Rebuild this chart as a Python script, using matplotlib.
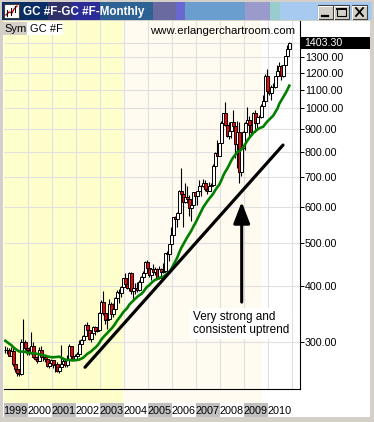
import numpy as np
import pandas as pd
import matplotlib
matplotlib.use("Agg")
import matplotlib.pyplot as plt
from matplotlib.patches import Rectangle
from matplotlib.ticker import NullLocator
from matplotlib.transforms import blended_transform_factory

plt.rcParams['font.family'] = ['Liberation Sans', 'DejaVu Sans']

# monthly gold futures, Jan 1999 .. Nov 2010
years = list(range(1999, 2011))
opens = [
    288, 287, 287, 279, 286, 268, 261, 255, 254, 299, 299, 291,
    288, 283, 294, 277, 275, 272, 288, 277, 277, 274, 265, 269,
    273, 266, 267, 258, 264, 267, 271, 266, 273, 293, 279, 275,
    279, 282, 297, 302, 309, 327, 319, 305, 313, 324, 317, 318,
    348, 368, 348, 335, 337, 365, 346, 355, 376, 388, 386, 398,
    416, 403, 396, 428, 389, 395, 396, 391, 409, 419, 428, 453,
    438, 423, 437, 429, 436, 417, 437, 429, 433, 473, 471, 496,
    519, 570, 564, 584, 654, 643, 616, 634, 626, 599, 606, 649,
    636, 652, 669, 669, 681, 661, 653, 669, 673, 744, 794, 783,
    838, 928, 975, 916, 865, 887, 930, 914, 833, 885, 719, 816,
    884, 928, 943, 917, 883, 976, 927, 955, 955, 1009, 1040, 1182,
    1095, 1083, 1116, 1113, 1180, 1212, 1245, 1180, 1248, 1308, 1358,
]
highs = [
    294, 292, 291, 292, 290, 268, 263, 260, 305, 338, 302, 292,
    292, 316, 299, 285, 279, 292, 293, 281, 279, 276, 270, 275,
    273, 270, 270, 266, 295, 276, 272, 280, 296, 294, 280, 281,
    285, 303, 304, 310, 328, 332, 327, 315, 326, 326, 323, 350,
    372, 389, 352, 341, 373, 368, 366, 377, 392, 394, 400, 417,
    428, 416, 429, 430, 396, 406, 408, 412, 420, 431, 456, 457,
    440, 439, 448, 440, 438, 444, 439, 450, 475, 478, 497, 541,
    571, 575, 585, 655, 733, 646, 679, 668, 640, 610, 649, 650,
    654, 690, 672, 695, 692, 675, 683, 680, 750, 799, 848, 838,
    935, 977, 1033, 937, 933, 932, 989, 918, 934, 930, 827, 890,
    932, 1007, 960, 923, 980, 991, 961, 967, 1024, 1072, 1194, 1227,
    1163, 1128, 1140, 1183, 1249, 1266, 1247, 1252, 1311, 1388, 1410,
]
lows = [
    283, 282, 278, 278, 265, 257, 252, 251, 253, 295, 287, 280,
    280, 282, 276, 273, 269, 271, 276, 271, 270, 263, 262, 267,
    262, 256, 257, 255, 263, 265, 263, 264, 272, 276, 273, 273,
    277, 281, 290, 298, 307, 316, 302, 300, 311, 311, 315, 317,
    345, 344, 328, 320, 337, 343, 341, 350, 370, 367, 378, 397,
    398, 394, 390, 384, 372, 383, 388, 389, 398, 414, 423, 431,
    419, 412, 426, 423, 415, 415, 417, 428, 433, 462, 456, 491,
    517, 539, 542, 583, 640, 543, 612, 615, 573, 560, 605, 612,
    607, 648, 637, 667, 654, 643, 652, 651, 673, 728, 781, 780,
    837, 889, 913, 860, 852, 857, 910, 775, 735, 681, 705, 742,
    806, 917, 865, 865, 883, 913, 905, 930, 950, 1003, 1040, 1075,
    1073, 1045, 1087, 1111, 1157, 1200, 1157, 1175, 1243, 1308, 1330,
]
closes = [
    287, 287, 279, 286, 268, 261, 255, 254, 299, 299, 291, 288,
    283, 294, 277, 275, 272, 288, 277, 277, 274, 265, 269, 273,
    266, 267, 258, 264, 267, 271, 266, 273, 293, 279, 275, 279,
    282, 297, 302, 309, 327, 319, 305, 313, 324, 317, 318, 348,
    368, 348, 335, 337, 365, 346, 355, 376, 388, 386, 398, 416,
    403, 396, 428, 389, 395, 396, 391, 409, 419, 428, 453, 438,
    423, 437, 429, 436, 417, 437, 429, 433, 473, 471, 496, 519,
    570, 564, 584, 654, 643, 616, 634, 626, 599, 606, 649, 636,
    652, 669, 669, 681, 661, 653, 669, 673, 744, 794, 783, 838,
    928, 975, 916, 865, 887, 930, 914, 833, 885, 719, 816, 884,
    928, 943, 917, 883, 976, 927, 955, 955, 1009, 1040, 1182, 1095,
    1083, 1116, 1113, 1180, 1212, 1245, 1180, 1248, 1308, 1358, 1403.30,
]
# closes Jun 1997 .. Dec 1998, only used to warm up the moving average
closes_pre = [334, 326, 325, 332, 311, 296, 290,
              304, 297, 301, 310, 293, 296, 288, 273, 293, 292, 294, 288]
ma_len = 20

price_ticks = [1300, 1200, 1100, 1000, 900, 800, 700, 600, 500, 400, 300]
trend_x = [39.85, 138.85]
trend_y = [263, 827]
arrow_x = 118.2
arrow_from, arrow_to = 368, 617
note = "Very strong and\nconsistent uptrend"

W, H = 374, 422
fig = plt.figure(figsize=(W / 100, H / 100), dpi=100)
fig.patch.set_facecolor('#d4d0c8')

# window chrome, in pixel coordinates
bg = fig.add_axes([0, 0, 1, 1], zorder=0)
bg.set_xlim(0, W)
bg.set_ylim(H, 0)
bg.axis('off')
bar_parts = [(2, 48, '#0a2d64'), (48, 72, '#303068'), (72, 100, '#2c2c98'),
             (100, 153, '#2e6294'), (153, 176, '#6a6aa0'), (176, 185, '#6868d0'),
             (185, 245, '#6a9ece'), (245, 270, '#9a9acc'), (270, 280, '#99cccc'),
             (280, 372, '#a6caf0')]
for x0, x1, c in bar_parts:
    bg.add_patch(Rectangle((x0, 2), x1 - x0, 18, fc=c, lw=0))
bg.add_patch(Rectangle((4, 4), 15, 14, fc='white', ec='#404040', lw=0.8))
bg.plot([6, 9, 12, 14, 17], [15, 12, 13, 9, 6], color='#cc0000', lw=1)
bg.plot([7, 7], [10, 16], color='black', lw=0.7)
bg.plot([11, 11], [8, 15], color='black', lw=0.7)
bg.plot([15, 15], [6, 12], color='black', lw=0.7)
bg.text(23, 11.5, "GC #F-GC #F-Monthly", color='white', fontsize=8.4,
        fontweight='bold', va='center', ha='left')
for i, bx in enumerate([318, 334, 352]):
    bg.add_patch(Rectangle((bx, 5), 15, 14, fc='#d4d0c8', ec='#404040', lw=0.8))
    bg.plot([bx + 0.5, bx + 0.5, bx + 14], [18.5, 5.7, 5.7], color='white', lw=0.7)
    if i == 0:
        bg.plot([bx + 4, bx + 10], [15.5, 15.5], color='black', lw=1.6)
    elif i == 1:
        bg.add_patch(Rectangle((bx + 3, 8), 9, 8, fill=False, ec='black', lw=0.8))
        bg.plot([bx + 3, bx + 12], [8.5, 8.5], color='black', lw=1.4)
    else:
        bg.plot([bx + 4, bx + 11], [8, 16], color='black', lw=1.3)
        bg.plot([bx + 4, bx + 11], [16, 8], color='black', lw=1.3)
bg.add_patch(Rectangle((3, 21), 367, 396, fc='white', lw=0))

x_lim = (-0.65, 147.35)
y_lim = (235.1, 1568)
bounds = [-0.5 + 12 * k for k in range(len(years) + 1)]

ax = fig.add_axes([4 / W, (H - 389) / H, 296 / W, 368 / H], zorder=2)
ax.set_yscale('log')
ax.set_xlim(*x_lim)
ax.set_ylim(*y_lim)
ax.axvspan(x_lim[0], 59.0, color='#ffffcc', lw=0, zorder=0)
ax.axvspan(59.0, 128.4, color='#fffbf0', lw=0, zorder=0)
for v in price_ticks + [1400]:
    ax.axhline(v, color='#e0e0e0', lw=0.8, zorder=0.5)
for b in bounds[1:]:
    ax.axvline(b, color='#e0e0e0', lw=0.8, zorder=0.5)

o = np.array(opens, dtype=float)
c = np.array(closes, dtype=float)
x = np.arange(len(c))
ax.vlines(x, lows, highs, color='black', lw=0.8, zorder=2)
body_col = np.where(c >= o, 'white', '#ff0000')
ax.bar(x, np.maximum(np.abs(c - o), 0.5), bottom=np.minimum(o, c), width=1.3,
       color=body_col, edgecolor='black', linewidth=0.7, zorder=3)

all_c = pd.Series(closes_pre + closes, dtype=float)
ma = all_c.rolling(ma_len).mean()
x_all = np.arange(-len(closes_pre), len(closes))
ax.plot(x_all, ma, color='#008000', lw=1.9, zorder=4)

ax.plot(trend_x, trend_y, color='black', lw=2.3, zorder=5, solid_capstyle='round')
ax.annotate('', xy=(arrow_x, arrow_to), xytext=(arrow_x, arrow_from),
            arrowprops=dict(arrowstyle='-|>,head_length=1.3,head_width=0.5',
                            mutation_scale=10, lw=2.2, color='black',
                            shrinkA=0, shrinkB=0), zorder=5)
ax.text(93.85, 351, note, fontsize=8.5, va='top', ha='left', linespacing=1.1,
        bbox=dict(fc='white', ec='none', pad=2.2), zorder=6)

ax.yaxis.tick_right()
ax.set_yticks(price_ticks)
ax.set_yticklabels([f"{v:.2f}" for v in price_ticks])
ax.yaxis.set_minor_locator(NullLocator())
ax.tick_params(axis='y', length=3, width=0.7, pad=0.5, labelsize=7.7, colors='black')
ax.tick_params(axis='x', bottom=False, labelbottom=False)
for s in ['left', 'top']:
    ax.spines[s].set_visible(False)
for s in ['right', 'bottom']:
    ax.spines[s].set_color('black')
    ax.spines[s].set_linewidth(0.8)

# last price marker
last = closes[-1]
f = 10 ** (6 / 446)
tr = blended_transform_factory(ax.transAxes, ax.transData)
ax.add_patch(Rectangle((1.0, last / f), 70 / 296, last * f - last / f, transform=tr,
                       fc='black', lw=0, clip_on=False, zorder=7))
ax.text(1.0 + 4 / 296, last, f"{last:.2f}", transform=tr, color='white',
        fontsize=7.7, va='center', ha='left', zorder=8, clip_on=False)

# shaded strip under the price panel
strip = fig.add_axes([4 / W, (H - 403) / H, 296 / W, 14 / H], zorder=1)
strip.set_xlim(*x_lim)
strip.axvspan(x_lim[0], 59.0, color='#ffffcc', lw=0)
strip.axvspan(59.0, 128.4, color='#fffbf0', lw=0)
strip.axis('off')

# year labels
lab = fig.add_axes([4 / W, (H - 417) / H, 296 / W, 14 / H], zorder=1)
lab.set_xlim(*x_lim)
lab.set_ylim(0, 1)
lab.axis('off')
for k, yr in enumerate(years):
    if k % 2 == 0:
        lab.axvspan(bounds[k], bounds[k + 1], color='#c0c0c0', lw=0)
    lab.text(bounds[k] - 0.35, 0.45, str(yr), fontsize=7.8, ha='left', va='center')

# header texts over the chart
top = fig.add_axes([0, 0, 1, 1], zorder=6)
top.set_xlim(0, W)
top.set_ylim(H, 0)
top.axis('off')
top.patch.set_alpha(0)
top.add_patch(Rectangle((3, 22), 24, 13, fc='#d4d0c8', lw=0))
top.text(4.5, 28.5, "Sym", fontsize=8, va='center', ha='left')
top.add_patch(Rectangle((27, 22), 36, 13, fc='white', lw=0))
top.text(30, 28.5, "GC #F", fontsize=8, va='center', ha='left')
top.text(150, 30.5, "www.erlangerchartroom.com", fontsize=8.2, va='center', ha='left')

fig.savefig('out.png', dpi=100)
